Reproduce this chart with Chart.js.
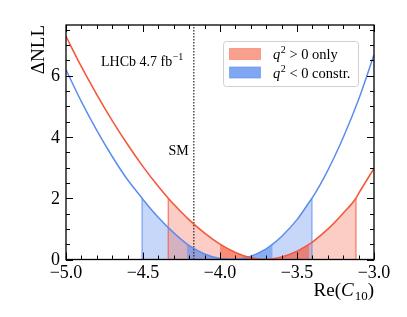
<!DOCTYPE html>
<html>
<head>
<meta charset="utf-8">
<script src="https://cdn.jsdelivr.net/npm/chart.js@4/dist/chart.umd.min.js"></script>
<style>
  body { margin: 0; background: #fff; }
  canvas { display: block; }
</style>
</head>
<body>
<canvas id="c" width="407" height="317"></canvas>
<script>
// Re(C10) scan
const redX = [-5.0, -4.9, -4.8, -4.7, -4.6, -4.5, -4.4, -4.336, -4.3, -4.2, -4.1, -4.0, -3.9, -3.8, -3.7, -3.6, -3.5, -3.42, -3.4, -3.3, -3.2, -3.117, -3.1, -3.0];
const redY = [7.28, 6.29, 5.38, 4.53, 3.75, 3.03, 2.38, 2.0, 1.80, 1.29, 0.86, 0.5, 0.23, 0.055, 0.0, 0.08, 0.27, 0.5, 0.57, 0.99, 1.51, 2.0, 2.15, 2.97];
const blueX = [-5.0, -4.9, -4.8, -4.7, -4.6, -4.506, -4.5, -4.4, -4.3, -4.214, -4.2, -4.1, -4.0, -3.9, -3.8, -3.7, -3.658, -3.6, -3.5, -3.403, -3.4, -3.3, -3.2, -3.1, -3.0];
const blueY = [6.19, 5.15, 4.21, 3.36, 2.60, 2.0, 1.96, 1.37, 0.87, 0.5, 0.45, 0.18, 0.03, 0.006, 0.11, 0.35, 0.5, 0.75, 1.30, 2.0, 2.02, 2.91, 3.98, 5.22, 6.68];

// intervals (1 sigma: dNLL < 0.5, 2 sigma: dNLL < 2)
const red1s = [-4.0, -3.42];
const red2s = [-4.336, -3.117];
const blue1s = [-4.214, -3.658];
const blue2s = [-4.506, -3.403];

const smValue = -4.17;

const xTicks = [-5.0, -4.5, -4.0, -3.5, -3.0];
const xTickLabels = ["\u22125.0", "\u22124.5", "\u22124.0", "\u22123.5", "\u22123.0"];
const yTicks = [0, 2, 4, 6];
const yTickLabels = ["0", "2", "4", "6"];
const xMin = -5.0, xMax = -3.0, yMin = 0, yMax = 7.65;

const legendLabels = [["q", "2", " > 0 only"], ["q", "2", " < 0 constr."]];

const RED = "#f4593c";
const BLUE = "#5b8def";
const SERIF = "'Liberation Serif', 'Times New Roman', serif";

const pts = (xs, ys) => xs.map((x, i) => ({ x: x, y: ys[i] }));

// curve points between lo and hi (filled down to zero by the filler)
function band(xs, ys, lo, hi) {
  return pts(xs, ys).filter(p => p.x >= lo - 1e-9 && p.x <= hi + 1e-9);
}
// vertical edge line at an interval bound
function edge(xs, ys, at) {
  const i = xs.findIndex(x => Math.abs(x - at) < 1e-9);
  return [{ x: at, y: 0 }, { x: at, y: ys[i] }];
}

const axesPlugin = {
  id: "axesPlugin",
  afterDraw(chart) {
    const ctx = chart.ctx;
    const xs = chart.scales.x, ys = chart.scales.y;
    const a = chart.chartArea;
    ctx.save();

    // minor + major ticks, inward on all sides
    ctx.strokeStyle = "#000";
    ctx.lineWidth = 1;
    ctx.beginPath();
    for (let k = 0; k <= 20; k++) {
      const v = xMin + k * 0.1;
      const px = Math.round(xs.getPixelForValue(v)) + 0.5;
      const len = k % 5 === 0 ? 7 : 4;
      ctx.moveTo(px, a.bottom); ctx.lineTo(px, a.bottom - len);
      ctx.moveTo(px, a.top); ctx.lineTo(px, a.top + len);
    }
    for (let v = 0; v <= yMax; v += 0.5) {
      const py = Math.round(ys.getPixelForValue(v)) + 0.5;
      const len = yTicks.includes(v) ? 7 : 4;
      ctx.moveTo(a.left, py); ctx.lineTo(a.left + len, py);
      ctx.moveTo(a.right, py); ctx.lineTo(a.right - len, py);
    }
    ctx.stroke();

    // frame
    ctx.lineWidth = 1.3;
    ctx.strokeRect(a.left, a.top, a.right - a.left, a.bottom - a.top);

    // tick labels
    ctx.fillStyle = "#000";
    ctx.font = "18px " + SERIF;
    ctx.textAlign = "center";
    ctx.textBaseline = "alphabetic";
    xTicks.forEach((v, i) => ctx.fillText(xTickLabels[i], xs.getPixelForValue(v), a.bottom + 18));
    ctx.textAlign = "right";
    ctx.textBaseline = "middle";
    yTicks.forEach((v, i) => ctx.fillText(yTickLabels[i], a.left - 6, ys.getPixelForValue(v) + 1));

    // y title
    ctx.save();
    ctx.translate(44, a.top);
    ctx.rotate(-Math.PI / 2);
    ctx.textAlign = "right";
    ctx.textBaseline = "alphabetic";
    ctx.font = "19px " + SERIF;
    ctx.fillText("\u0394NLL", 0, 0);
    ctx.restore();

    // Re(C_10), right aligned to the frame
    ctx.textBaseline = "alphabetic";
    ctx.textAlign = "left";
    const big = "19px " + SERIF, bigIt = "italic 19px " + SERIF, sub = "13px " + SERIF;
    ctx.font = big; const w1 = ctx.measureText("Re(").width;
    ctx.font = bigIt; const w2 = ctx.measureText("C").width;
    ctx.font = sub; const w3 = ctx.measureText("10").width;
    ctx.font = big; const w4 = ctx.measureText(")").width;
    let tx = a.right - (w1 + w2 + w3 + w4 + 1);
    const ty = 296;
    ctx.font = big; ctx.fillText("Re(", tx, ty); tx += w1;
    ctx.font = bigIt; ctx.fillText("C", tx, ty); tx += w2 + 1;
    ctx.font = sub; ctx.fillText("10", tx, ty + 4); tx += w3;
    ctx.font = big; ctx.fillText(")", tx, ty);

    // LHCb label
    ctx.font = "14px " + SERIF;
    ctx.fillText("LHCb 4.7 fb", 101, 66);
    const wl = ctx.measureText("LHCb 4.7 fb").width;
    ctx.font = "10px " + SERIF;
    ctx.fillText("\u22121", 101 + wl + 0.5, 60);

    // SM label
    ctx.font = "14px " + SERIF;
    ctx.textAlign = "right";
    ctx.fillText("SM", xs.getPixelForValue(smValue) - 5, 155);

    // legend
    const lx = 223.5, ly = 41.5, lw = 135, lh = 45;
    ctx.beginPath();
    ctx.roundRect(lx, ly, lw, lh, 3);
    ctx.fillStyle = "rgba(255,255,255,0.85)";
    ctx.fill();
    ctx.strokeStyle = "#d0d0d0";
    ctx.lineWidth = 1;
    ctx.stroke();
    const patchFill = ["rgba(244,89,60,0.58)", "rgba(91,141,239,0.78)"];
    const patchEdge = ["rgba(244,89,60,0.45)", "rgba(91,141,239,0.6)"];
    legendLabels.forEach((parts, i) => {
      const py = 48.5 + i * 18.5;
      ctx.fillStyle = patchFill[i];
      ctx.fillRect(229.5, py, 31, 11);
      ctx.strokeStyle = patchEdge[i];
      ctx.strokeRect(229.5, py, 31, 11);
      ctx.fillStyle = "#000";
      ctx.textAlign = "left";
      ctx.textBaseline = "alphabetic";
      let x = 273;
      const base = py + 10.5;
      ctx.font = "italic 14.5px " + SERIF; ctx.fillText(parts[0], x, base); x += ctx.measureText(parts[0]).width + 0.5;
      ctx.font = "10px " + SERIF; ctx.fillText(parts[1], x, base - 6); x += ctx.measureText(parts[1]).width;
      ctx.font = "14.5px " + SERIF; ctx.fillText(parts[2], x, base);
    });

    ctx.restore();
  }
};

const smooth = { cubicInterpolationMode: "monotone" };
const edgeLine = (data, color) => ({ data: data, borderColor: color, borderWidth: 1.2, fill: false, order: 3 });

new Chart(document.getElementById("c"), {
  type: "line",
  data: {
    datasets: [
      { ...smooth, data: pts(redX, redY), borderColor: RED, borderWidth: 1.6, fill: false, order: 0 },
      { ...smooth, data: pts(blueX, blueY), borderColor: BLUE, borderWidth: 1.5, fill: false, order: 1 },
      { data: [{ x: smValue, y: yMin }, { x: smValue, y: yMax }], borderColor: "#222", borderWidth: 1.2, borderDash: [1.5, 1.5], fill: false, order: 2 },
      edgeLine(edge(redX, redY, red2s[0]), "rgba(244,89,60,0.8)"),
      edgeLine(edge(redX, redY, red2s[1]), "rgba(244,89,60,0.8)"),
      edgeLine(edge(blueX, blueY, blue2s[0]), "rgba(91,141,239,0.8)"),
      edgeLine(edge(blueX, blueY, blue2s[1]), "rgba(91,141,239,0.8)"),
      { ...smooth, data: band(redX, redY, red1s[0], red1s[1]), backgroundColor: "rgba(244,89,60,0.55)", borderWidth: 0, fill: "origin", order: 4 },
      { ...smooth, data: band(blueX, blueY, blue1s[0], blue1s[1]), backgroundColor: "rgba(91,141,239,0.55)", borderWidth: 0, fill: "origin", order: 5 },
      { ...smooth, data: band(redX, redY, red2s[0], red2s[1]), backgroundColor: "rgba(244,89,60,0.3)", borderWidth: 0, fill: "origin", order: 6 },
      { ...smooth, data: band(blueX, blueY, blue2s[0], blue2s[1]), backgroundColor: "rgba(91,141,239,0.35)", borderWidth: 0, fill: "origin", order: 7 }
    ]
  },
  options: {
    responsive: false,
    animation: false,
    devicePixelRatio: 1,
    layout: { padding: { left: 66, right: 33, top: 25, bottom: 57.5 } },
    elements: { point: { radius: 0, hoverRadius: 0 }, line: { tension: 0 } },
    scales: {
      x: { type: "linear", min: xMin, max: xMax, display: false },
      y: { type: "linear", min: yMin, max: yMax, display: false }
    },
    plugins: { legend: { display: false }, tooltip: { enabled: false } }
  },
  plugins: [axesPlugin]
});
</script>
</body>
</html>
